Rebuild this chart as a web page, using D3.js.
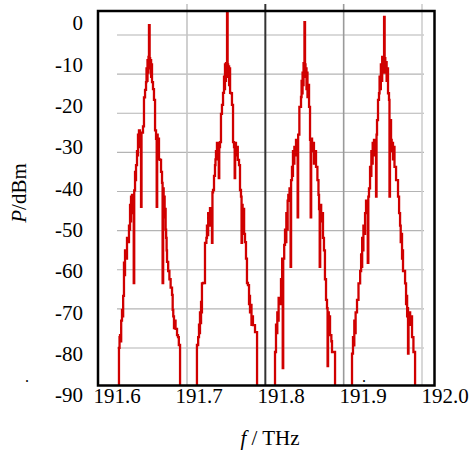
<!DOCTYPE html>
<html>
<head>
<meta charset="utf-8">
<script src="https://cdn.jsdelivr.net/npm/d3@7"></script>
<style>
  body { margin: 0; background: #fff; }
</style>
</head>
<body>
<div class="chart"></div>
<script>
var svgWidth = 470;
var svgHeight = 451;
var serif = "'Liberation Serif', 'DejaVu Serif', 'Times New Roman', serif";

// tick labels
var fTicks = [191.6, 191.7, 191.8, 191.9, 192.0];
var pTicks = [0, -10, -20, -30, -40, -50, -60, -70, -80, -90];

// grid of the embedded trace image (its own, offset from the labels)
var gridF = [191.7, 191.8, 191.9, 192.0];
var gridP = [0, -10, -20, -30, -40, -50, -60, -70, -80];

// comb centres in THz
var combCenters = [191.6394, 191.7345, 191.8289, 191.926];

// trace of each comb: [offset from centre in GHz, power in dBm]
var comb1 = [
  [-45, -95], [-37.0, -78.6], [-36.3, -76], [-35.7, -75.5], [-35.0, -77], [-34.3, -72],
  [-33.3, -69.4], [-32.6, -71], [-31.9, -66], [-30.9, -58], [-30.2, -61], [-29.6, -55],
  [-28.4, -57], [-27.2, -52], [-26.0, -53], [-24.8, -49], [-24.2, -50], [-23.5, -44],
  [-22.9, -48], [-22.3, -42], [-21.7, -46], [-21.1, -41.6], [-19.9, -43], [-19.0, -62.9],
  [-18.4, -40.5], [-17.4, -36], [-16.8, -38], [-16.2, -34.4], [-15.0, -31], [-14.4, -32],
  [-13.8, -27], [-13.2, -30], [-12.6, -26], [-11.4, -27], [-10.1, -44.5], [-9.5, -26.5],
  [-7.7, -25], [-6.5, -18], [-5.2, -16.2], [-4.0, -14.3], [-3.4, -11], [-2.8, -14],
  [-2.2, -9], [-1.6, -12], [-1.0, -8.2], [-0.4, -0.5], [0.4, -8.5], [1.0, -11],
  [1.6, -9], [2.2, -13], [2.8, -10], [3.3, -14.3], [4.5, -16], [5.7, -18.6],
  [7.0, -26], [8.2, -28], [9.0, -44.5], [9.6, -27], [10.2, -30], [11.0, -28],
  [11.8, -33], [13.1, -33.1], [14.3, -36], [15.5, -38.7], [16.2, -62.9], [16.9, -40],
  [17.5, -43], [18.1, -42], [18.7, -47], [19.3, -45], [19.9, -50], [20.5, -52],
  [21.1, -55], [21.6, -57.8], [23.0, -60], [24.5, -62], [26.0, -64], [27.7, -65.8],
  [28.5, -69.4], [29.2, -71], [30.1, -73.8], [31.0, -72], [32.0, -74], [33.8, -75.5],
  [35.0, -76], [36.0, -77.9], [37.5, -95]
];

var comb2 = [
  [-45, -95], [-37.0, -77.9], [-35.5, -76], [-34.5, -73], [-33.8, -75], [-33.3, -70],
  [-32.6, -72.6], [-32.0, -67.5], [-31.4, -70], [-30.9, -63], [-29.5, -62.9], [-27.2, -53.2],
  [-25.5, -52], [-24.8, -49], [-24.0, -51.3], [-23.3, -46], [-22.5, -49], [-21.1, -44.8],
  [-19.9, -45], [-18.7, -53.2], [-18.1, -41], [-17.4, -40.4], [-16.2, -37], [-15.0, -34.4],
  [-14.4, -33], [-13.8, -31], [-13.2, -33], [-12.6, -29], [-11.4, -31], [-10.4, -37.5],
  [-9.8, -30], [-8.9, -28.8], [-7.7, -22], [-6.5, -19.8], [-5.2, -16.9], [-4.0, -13],
  [-3.4, -16], [-2.8, -10], [-2.2, -14], [-1.6, -9.7], [-0.8, -12], [-0.3, 5],
  [0.4, -10], [1.0, -13], [1.6, -10.5], [2.2, -15], [2.8, -11], [3.4, -16.9],
  [4.5, -17], [5.7, -19.8], [7.0, -28.8], [8.2, -30], [9.0, -37.5], [9.6, -29],
  [10.6, -32], [11.8, -30], [12.8, -33.1], [14.3, -34.4], [15.5, -40.4], [16.7, -42],
  [17.4, -53.2], [18.0, -44], [18.7, -47], [19.3, -45], [20.5, -51], [21.6, -53],
  [22.8, -57], [24.0, -62.9], [25.2, -63.4], [26.5, -68], [27.1, -66], [27.7, -70],
  [28.3, -68.2], [29.5, -73], [30.1, -71], [31.3, -73.1], [33.8, -74.8], [36.3, -95]
];

var comb3 = [
  [-45, -95], [-36.2, -79.6], [-35.0, -73], [-34.2, -75], [-33.4, -70], [-32.6, -72],
  [-31.8, -66.5], [-30.5, -68], [-28.9, -62], [-27.5, -57], [-26.8, -83.5], [-26.2, -57],
  [-25.0, -53.7], [-24.0, -50], [-23.2, -53], [-22.4, -46], [-21.6, -50], [-20.8, -43],
  [-20.0, -41.6], [-18.5, -40], [-17.2, -59], [-16.6, -38], [-15.5, -34.8], [-14.9, -37],
  [-14.3, -31], [-13.5, -34], [-12.6, -30], [-11.4, -32], [-10.6, -28.3], [-8.6, -47],
  [-8.0, -27], [-6.5, -20.3], [-4.5, -17.9], [-3.8, -14], [-3.2, -17], [-2.6, -12],
  [-2.0, -15], [-1.4, -9.7], [-0.7, -12], [-0.3, 0.2], [0.4, -10], [1.0, -13],
  [1.6, -11], [2.2, -16], [2.8, -12], [3.4, -17.9], [4.6, -15], [5.3, -20.3],
  [6.5, -28.3], [7.3, -47], [7.9, -28], [9.0, -31], [10.1, -29], [11.3, -34],
  [12.5, -31], [13.8, -34.8], [15.5, -38], [16.8, -41.6], [17.5, -45], [18.3, -59],
  [18.9, -44], [20.1, -48], [21.3, -46], [22.3, -52], [23.5, -55], [24.7, -62],
  [26.0, -67], [27.2, -69], [27.9, -83], [28.5, -70], [29.4, -73], [30.1, -71],
  [30.9, -75.5], [32.5, -77], [33.3, -79.6], [37.0, -95]
];

var comb4 = [
  [-45, -95], [-39.4, -80], [-38.2, -76], [-37.4, -78], [-36.6, -72], [-35.8, -75],
  [-35.0, -70], [-33.3, -67], [-31.5, -63], [-29.5, -60], [-28.3, -56], [-27.6, -59],
  [-27.0, -52], [-26.2, -55], [-25.5, -49], [-24.5, -51], [-23.5, -46], [-22.3, -43],
  [-21.1, -44], [-20.2, -58], [-19.5, -42], [-18.7, -40], [-17.4, -34.8], [-16.6, -37],
  [-15.8, -31], [-15.0, -34], [-14.2, -29], [-13.4, -32], [-12.6, -28.3], [-10.1, -42],
  [-9.5, -27], [-8.9, -23.5], [-7.7, -18.6], [-6.5, -17], [-5.8, -13], [-5.0, -16],
  [-4.2, -10], [-3.4, -14], [-2.6, -8.2], [-1.8, -12], [-1.0, -9], [-0.3, 1.5],
  [0.4, -8.5], [1.2, -12], [2.0, -9.5], [2.8, -14], [3.6, -11], [4.5, -17],
  [5.7, -18.6], [6.3, -42], [6.9, -23.5], [8.2, -28.3], [9.0, -31], [9.8, -29],
  [10.6, -33], [11.4, -30], [12.4, -34.8], [14.3, -38], [16.7, -42], [18.0, -46],
  [19.2, -49], [20.0, -53], [20.8, -51], [21.6, -57], [22.2, -55], [22.8, -60],
  [25.3, -63], [26.5, -68], [27.2, -66], [27.8, -71], [28.4, -69], [28.9, -80],
  [29.5, -72], [30.5, -70], [31.5, -73], [32.6, -71], [33.8, -76], [35.5, -79.6],
  [37.5, -95]
];

var combs = [comb1, comb2, comb3, comb4];

var svg = d3.select(".chart")
  .append("svg")
  .attr("width", svgWidth)
  .attr("height", svgHeight);

// scales for the labels and trace
var xScale = d3.scaleLinear().domain([191.6, 192.0]).range([117, 445]);
var yScale = d3.scaleLinear().domain([0, -90]).range([23, 395]);

// scales of the embedded grid
var xGrid = d3.scaleLinear().domain([191.7, 192.0]).range([187, 422]);
var yGrid = d3.scaleLinear().domain([0, -80]).range([35, 348]);

var frame = { left: 98, top: 11, right: 434.5, bottom: 385.5 };

svg.append("defs").append("clipPath")
  .attr("id", "plotClip")
  .append("rect")
  .attr("x", frame.left)
  .attr("y", frame.top)
  .attr("width", frame.right - frame.left)
  .attr("height", frame.bottom - frame.top);

// horizontal grid lines
svg.append("g").selectAll("line")
  .data(gridP)
  .enter().append("line")
    .attr("x1", 117)
    .attr("x2", 424)
    .attr("y1", function(d) { return yGrid(d); })
    .attr("y2", function(d) { return yGrid(d); })
    .attr("stroke", "#b4b4b4")
    .attr("stroke-width", 1.2);

// vertical grid lines, the second one darker
var gridColors = ["#c4c4c4", "#333333", "#9a9a9a", "#cfcfcf"];
svg.append("g").selectAll("line")
  .data(gridF)
  .enter().append("line")
    .attr("x1", function(d) { return xGrid(d); })
    .attr("x2", function(d) { return xGrid(d); })
    .attr("y1", 4)
    .attr("y2", frame.bottom)
    .attr("stroke", function(d, i) { return gridColors[i]; })
    .attr("stroke-width", function(d, i) { return i == 1 ? 2 : 1.6; });

// spectrum traces
var line = d3.line()
  .curve(d3.curveStepAfter)
  .x(function(d) { return xScale(d.f); })
  .y(function(d) { return yScale(d.p); });

var traces = svg.append("g").attr("clip-path", "url(#plotClip)");
combs.forEach(function(comb, i) {
  var pts = comb.map(function(d) {
    return { f: combCenters[i] + d[0] / 1000, p: d[1] };
  });
  traces.append("path")
    .datum(pts)
    .attr("d", line)
    .attr("fill", "none")
    .attr("stroke", "#d00000")
    .attr("stroke-width", 2.3)
    .attr("stroke-linejoin", "miter");
});

// frame
svg.append("rect")
  .attr("x", frame.left)
  .attr("y", frame.top)
  .attr("width", frame.right - frame.left)
  .attr("height", frame.bottom - frame.top)
  .attr("fill", "none")
  .attr("stroke", "#000")
  .attr("stroke-width", 2.5);

// y tick labels
svg.append("g").selectAll("text")
  .data(pTicks)
  .enter().append("text")
    .attr("x", 83)
    .attr("y", function(d) { return yScale(d); })
    .attr("dy", "0.35em")
    .attr("text-anchor", "end")
    .attr("font-family", serif)
    .attr("font-size", 21)
    .text(function(d) { return d; });

// x tick labels
svg.append("g").selectAll("text")
  .data(fTicks)
  .enter().append("text")
    .attr("x", function(d) { return xScale(d); })
    .attr("y", 396)
    .attr("dy", "0.35em")
    .attr("text-anchor", "middle")
    .attr("font-family", serif)
    .attr("font-size", 21)
    .text(function(d) { return d.toFixed(1); });

// axis titles
var yTitle = svg.append("text")
  .attr("transform", "translate(26,193) rotate(-90)")
  .attr("text-anchor", "middle")
  .attr("font-family", serif)
  .attr("font-size", 21);
yTitle.append("tspan").attr("font-style", "italic").text("P");
yTitle.append("tspan").text("/dBm");

var xTitle = svg.append("text")
  .attr("x", 270)
  .attr("y", 445)
  .attr("text-anchor", "middle")
  .attr("font-family", serif)
  .attr("font-size", 21);
xTitle.append("tspan").attr("font-style", "italic").text("f");
xTitle.append("tspan").text(" / THz");

// stray dots in the figure
svg.append("text").attr("x", 25).attr("y", 382).attr("font-family", serif).attr("font-size", 16).text(".");
svg.append("text").attr("x", 362).attr("y", 382).attr("font-family", serif).attr("font-size", 16).text(".");
</script>
</body>
</html>
